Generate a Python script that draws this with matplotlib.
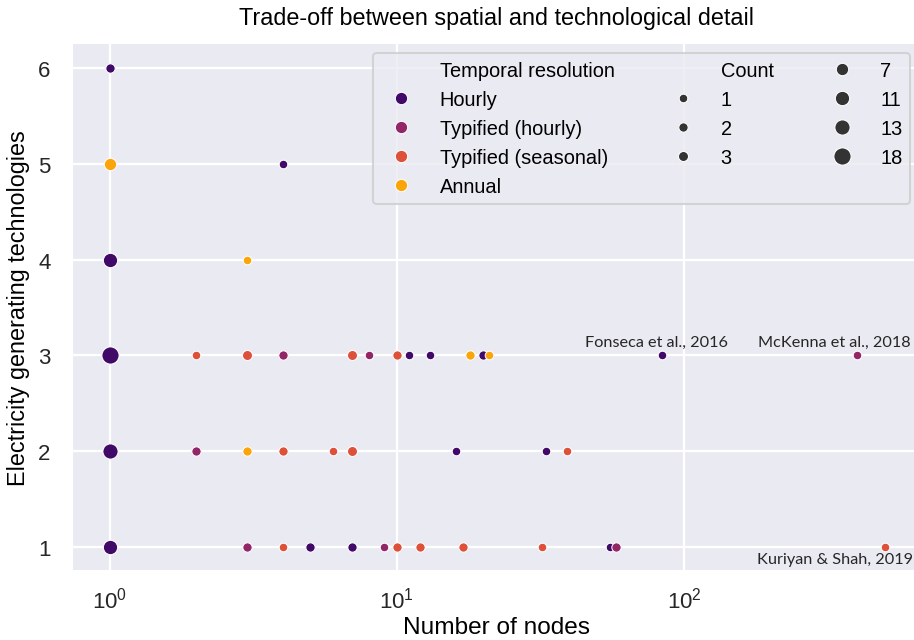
import numpy as np
import matplotlib
matplotlib.use("Agg")
import matplotlib.pyplot as plt
from matplotlib.lines import Line2D

plt.rcParams['font.family'] = ['Liberation Sans', 'DejaVu Sans']

# ── Data ──────────────────────────────────────────────────────────────────────
categories = ["Hourly", "Typified (hourly)", "Typified (seasonal)", "Annual"]
colors = ["#420a68", "#932667", "#dd513a", "#fca50a"]

nodes = [1, 4, 1, 3,
         1, 2, 3, 4, 7, 8, 10, 11, 13, 18, 20, 21, 84, 400,
         1, 2, 3, 4, 6, 7, 16, 33, 39,
         1, 3, 4, 5, 7, 9, 10, 12, 17, 32, 55, 58, 500,
         1, 1]
techs = [6, 5, 4, 4,
         3, 3, 3, 3, 3, 3, 3, 3, 3, 3, 3, 3, 3, 3,
         2, 2, 2, 2, 2, 2, 2, 2, 2,
         1, 1, 1, 1, 1, 1, 1, 1, 1, 1, 1, 1, 1,
         5, 4]
temporal = [0, 0, 3, 3,
            0, 2, 2, 1, 2, 1, 2, 0, 0, 3, 0, 3, 0, 1,
            0, 1, 3, 2, 2, 2, 0, 0, 2,
            0, 1, 2, 0, 0, 1, 2, 2, 2, 2, 0, 1, 2,
            3, 0]
counts = [2, 1, 7, 1,
          18, 1, 3, 2, 3, 1, 2, 1, 1, 2, 2, 1, 1, 1,
          13, 2, 2, 2, 1, 3, 1, 1, 1,
          11, 2, 1, 2, 2, 1, 2, 2, 2, 1, 1, 2, 1,
          7, 11]

legend_counts = [1, 2, 3, 7, 11, 13, 18]

annotations = [("Fonseca et al., 2016", 80, 3.14),
               ("McKenna et al., 2018", 333, 3.14),
               ("Kuriyan & Shah, 2019", 336, 0.88)]

# ── Helpers ───────────────────────────────────────────────────────────────────
cmin, cmax = 1, 18
smin, smax = 18, 72


def size_of(c):
    return smin + (c - cmin) / (cmax - cmin) * (smax - smin)


# ── Figure ────────────────────────────────────────────────────────────────────
DPI = 146
fig = plt.figure(figsize=(914 / DPI, 641 / DPI), dpi=DPI)
ax = fig.add_axes([73 / 914, 1 - 571 / 641, 1 - 73 / 914 + 0.006, (571 - 45) / 641])
ax.set_facecolor('#EAEAF2')
for s in ax.spines.values():
    s.set_visible(False)
ax.grid(True, color='white', linewidth=1.1)
ax.set_axisbelow(True)

for i in range(len(nodes)):
    ax.scatter(nodes[i], techs[i], s=size_of(counts[i]), color=colors[temporal[i]],
               edgecolor='white', linewidth=0.5, zorder=3)

ax.set_xscale('log')
ax.set_xlim(0.745, 660)
ax.set_ylim(0.76, 6.25)
ax.set_yticks([1, 2, 3, 4, 5, 6])
ax.minorticks_off()
ax.tick_params(axis='both', length=0, labelsize=11, colors='#262626')
ax.tick_params(axis='y', pad=11)
ax.tick_params(axis='x', pad=8)

ax.set_title("Trade-off between spatial and technological detail", fontsize=11.5, pad=10)
ax.set_xlabel("Number of nodes", fontsize=12, labelpad=2)
ax.set_ylabel("Electricity generating technologies", fontsize=11.5, labelpad=4)

for txt, x, y in annotations:
    ax.text(x, y, txt, ha='center', va='center', fontsize=8.0,
            family=['Lato', 'DejaVu Sans'], color='#262626', zorder=4)

# ── Legend ────────────────────────────────────────────────────────────────────
blank = Line2D([], [], linestyle='none', marker='')
handles = [blank]
labels = ["Temporal resolution"]
for cat, col in zip(categories, colors):
    handles.append(Line2D([], [], linestyle='none', marker='o', color=col,
                          markeredgecolor='white', markeredgewidth=0.5,
                          markersize=np.sqrt(size_of(7))))
    labels.append(cat)
handles.append(blank)
labels.append("Count")
for c in legend_counts:
    handles.append(Line2D([], [], linestyle='none', marker='o', color='#333333',
                          markeredgecolor='white', markeredgewidth=0.5,
                          markersize=np.sqrt(size_of(c))))
    labels.append(str(c))

leg = ax.legend(handles, labels, ncol=3, loc='upper right', fontsize=9.9,
                frameon=True, facecolor='#EAEAF2', edgecolor='#cccccc',
                framealpha=0.8, borderaxespad=0.45, columnspacing=2.4,
                labelspacing=0.5, handletextpad=0.9)

fig.savefig("out.png", dpi=DPI)
